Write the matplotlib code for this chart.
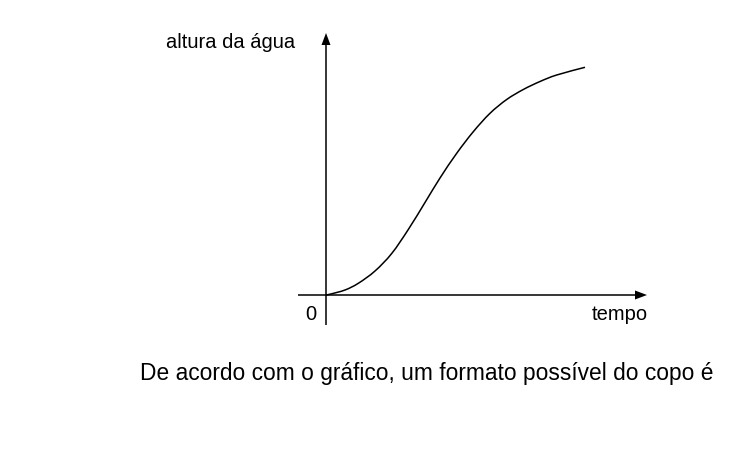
import matplotlib
matplotlib.use("Agg")
import matplotlib.pyplot as plt
from matplotlib.patches import Polygon, PathPatch
from matplotlib.path import Path

plt.rcParams['font.family'] = ['Liberation Sans', 'DejaVu Sans']

# curve (tempo, altura) in arbitrary units
tempo = [0, 4, 19, 32.3, 49, 65.7, 82.3, 99, 114, 130.7, 147.3, 164,
         180.7, 197.3, 214, 230.7, 259]
altura = [0, 0.8, 5, 11.7, 24, 41.5, 65.5, 92.5, 117, 141.7, 163.3, 181.7,
          195.5, 205.5, 213.5, 220, 227.7]

y_label = "altura da água"
x_label = "tempo"
origin_label = "0"
caption = "De acordo com o gráfico, um formato possível do copo é"

W, H = 748, 472
ox, oy = 326, 295  # origin pixel

fig = plt.figure(figsize=(W / 100, H / 100), dpi=100)
ax = fig.add_axes([0, 0, 1, 1])
ax.set_xlim(-ox, W - ox)
ax.set_ylim(oy - H, oy)
ax.axis('off')

lw = 1.1
# axes lines
ax.plot([-28, 314], [0, 0], color='black', lw=lw, solid_capstyle='butt')
ax.plot([0, 0], [-30, 252], color='black', lw=lw, solid_capstyle='butt')
# arrowheads
ax.add_patch(Polygon([[321, 0], [309, -4.5], [309, 4.5]], closed=True, color='black', lw=0))
ax.add_patch(Polygon([[0, 262], [-4.5, 250], [4.5, 250]], closed=True, color='black', lw=0))

# smooth line through the read points (Catmull-Rom drawn as Bezier path)
pts = list(zip(tempo, altura))
verts = [pts[0]]
codes = [Path.MOVETO]
n = len(pts)
for i in range(n - 1):
    p0 = pts[i - 1] if i > 0 else pts[i]
    p1 = pts[i]
    p2 = pts[i + 1]
    p3 = pts[i + 2] if i + 2 < n else pts[i + 1]
    c1 = (p1[0] + (p2[0] - p0[0]) / 6, p1[1] + (p2[1] - p0[1]) / 6)
    c2 = (p2[0] - (p3[0] - p1[0]) / 6, p2[1] - (p3[1] - p1[1]) / 6)
    verts += [c1, c2, p2]
    codes += [Path.CURVE4] * 3
ax.add_patch(PathPatch(Path(verts, codes), facecolor='none', edgecolor='black',
                       lw=lw, capstyle='butt'))

fs = 14.5
ax.text(295 - ox, oy - 48, y_label, ha='right', va='baseline', fontsize=fs)
ax.text(305 - ox, oy - 320, origin_label, ha='left', va='baseline', fontsize=fs)
ax.text(592 - ox, oy - 320, x_label, ha='left', va='baseline', fontsize=fs)
ax.text(140 - ox, oy - 380, caption, ha='left', va='baseline', fontsize=16.4)

fig.savefig("out.png", dpi=100)
